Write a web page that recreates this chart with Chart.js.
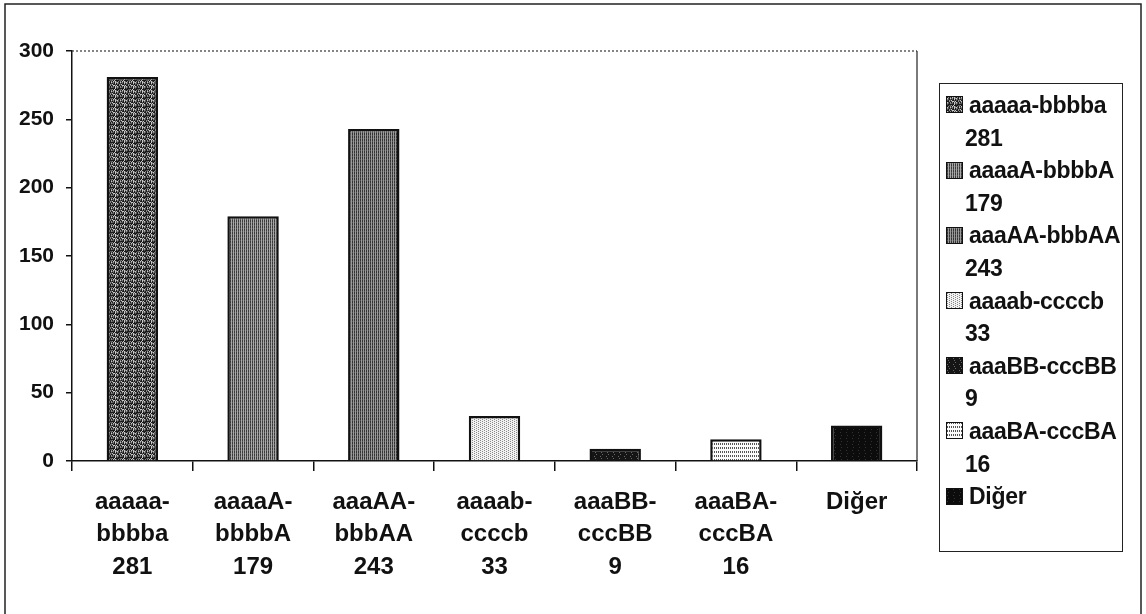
<!DOCTYPE html>
<html>
<head>
<meta charset="utf-8">
<script src="https://cdn.jsdelivr.net/npm/chart.js@4/dist/chart.umd.min.js"></script>
<style>
html,body{margin:0;padding:0;background:#fff;}
#wrap{position:relative;width:1146px;height:614px;overflow:hidden;background:#fff;}
#c{position:absolute;left:0;top:0;}
#legend{position:absolute;left:939px;top:83px;width:184px;height:469px;border:1.5px solid #222;box-sizing:border-box;
  font-family:"Liberation Sans",Arial,sans-serif;font-weight:bold;font-size:23px;color:#111;padding:5px 0 0 6px;letter-spacing:-0.3px;overflow:hidden;}
.row{height:32.6px;line-height:32.6px;white-space:nowrap;}
.sw{display:inline-block;width:17px;height:17px;border:1px solid #111;box-sizing:border-box;vertical-align:middle;margin-right:6px;position:relative;top:-2px;}
.val{padding-left:19px;}
</style>
</head>
<body>
<div id="wrap">
<canvas id="c" width="1146" height="614"></canvas>
<div id="legend"></div>
</div>
<script>
// ---- data ----
const categories = ['aaaaa-bbbba','aaaaA-bbbbA','aaaAA-bbbAA','aaaab-ccccb','aaaBB-cccBB','aaaBA-cccBA','Diğer'];
const values = [281, 179, 243, 33, 9, 16, 26];
const yTicks = [0, 50, 100, 150, 200, 250, 300];

// ---- fill patterns (deterministic textures) ----
function tile(size, fn){
  const cv = document.createElement('canvas'); cv.width = size; cv.height = size;
  const g = cv.getContext('2d');
  for(let y=0;y<size;y++) for(let x=0;x<size;x++){ g.fillStyle = fn(x,y); g.fillRect(x,y,1,1); }
  return cv;
}
const tiles = [
  tile(9,(x,y)=>{const k=(x*5+y*7+((x*y)%5))%9; return k<3?'#1a1a1a':(k<5?'#555':(k<7?'#8a8a8a':'#c8c8c8'));}),
  tile(6,(x,y)=>{const k=x%2; return k? '#a8a8a8' : ((y%3)?'#3a3a3a':'#5a5a5a');}),
  tile(6,(x,y)=>{const k=x%2; return k? '#9a9a9a' : ((y%3)?'#333':'#555');}),
  tile(4,(x,y)=>{return ((x+y*2)%4===0)?'#888':'#f2f2f2';}),
  tile(6,(x,y)=>{return ((x*3+y*5)%13===0)?'#666':'#151515';}),
  tile(4,(x,y)=>{return (x%2===0 && y%3===0)?'#555':'#fbfbfb';}),
  tile(6,(x,y)=>{return ((x*2+y*5)%17===0)?'#333':'#0c0c0c';})
];
const ctx = document.getElementById('c').getContext('2d');
const patterns = tiles.map(t => ctx.createPattern(t,'repeat'));

// ---- tick labels built from the data ----
const tickLabels = categories.map((c,i) => {
  const p = c.split('-');
  return p.length > 1 ? [p[0] + '-', p[1], String(values[i])] : [c];
});

// ---- legend (HTML) ----
const leg = document.getElementById('legend');
categories.forEach((c,i) => {
  const r1 = document.createElement('div'); r1.className='row';
  const sw = document.createElement('span'); sw.className='sw';
  sw.style.backgroundImage = 'url(' + tiles[i].toDataURL() + ')';
  r1.appendChild(sw); r1.appendChild(document.createTextNode(c));
  leg.appendChild(r1);
  if (c.indexOf('-') >= 0) {
    const r2 = document.createElement('div'); r2.className='row val'; r2.textContent = String(values[i]);
    leg.appendChild(r2);
  }
});

const framePlugin = {
  id:'frame',
  beforeDraw(chart){
    const g = chart.ctx;
    g.save(); g.fillStyle='#fff'; g.fillRect(0,0,chart.width,chart.height);
    g.strokeStyle='#222'; g.lineWidth=1.5;
    g.beginPath(); g.moveTo(5,614); g.lineTo(5,4); g.lineTo(1141,4); g.lineTo(1141,614); g.stroke();
    g.restore();
  },
  beforeDatasetsDraw(chart){
    const a = chart.chartArea, g = chart.ctx;
    g.save(); g.strokeStyle='#444'; g.lineWidth=1.3; g.setLineDash([2,2]);
    g.beginPath(); g.moveTo(a.left,a.top); g.lineTo(a.right,a.top); g.stroke();
    g.setLineDash([]); g.strokeStyle='#333';
    g.beginPath(); g.moveTo(a.right,a.top); g.lineTo(a.right,a.bottom); g.stroke();
    g.restore();
  }
};

new Chart(ctx, {
  type:'bar',
  data:{
    labels: tickLabels,
    datasets:[{
      data: values,
      backgroundColor: patterns,
      borderColor:'#111',
      borderWidth:2.5,
      barPercentage:0.6,
      categoryPercentage:0.71
    }]
  },
  options:{
    responsive:false,
    animation:false,
    layout:{padding:{left:0, top:51, right:229, bottom:0}},
    plugins:{legend:{display:false}, tooltip:{enabled:false}},
    scales:{
      x:{
        grid:{drawOnChartArea:false, drawTicks:true, tickLength:10, color:'#111', lineWidth:1.5, offset:true},
        border:{color:'#111', width:1.5},
        ticks:{color:'#111', padding:15, maxRotation:0, autoSkip:false,
          font:{family:'"Liberation Sans", Arial, sans-serif', weight:'bold', size:24, lineHeight:1.35}},
        afterFit(s){ s.height = 153; }
      },
      y:{
        min:0, max:300,
        afterBuildTicks(s){ s.ticks = yTicks.map(v => ({value:v})); },
        grid:{drawOnChartArea:false, drawTicks:true, tickLength:6, color:'#111', lineWidth:1.5},
        border:{color:'#111', width:1.5},
        ticks:{color:'#111', padding:12,
          font:{family:'"Liberation Sans", Arial, sans-serif', weight:'bold', size:21}},
        afterFit(s){ s.width = 72; }
      }
    }
  },
  plugins:[framePlugin]
});
</script>
</body>
</html>
